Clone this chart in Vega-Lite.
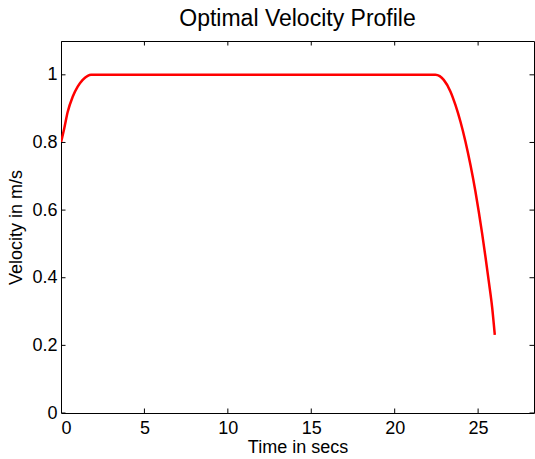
{
  "$schema": "https://vega.github.io/schema/vega-lite/v6.json",
  "width": 473,
  "height": 372,
  "autosize": "none",
  "padding": {"left": 61, "top": 41, "right": 1, "bottom": 46},
  "background": "white",
  "title": {"text": "Optimal Velocity Profile", "fontSize": 23, "font": "Liberation Sans", "fontWeight": "normal", "color": "black", "offset": 10},
  "config": {
    "view": {"stroke": "black", "strokeWidth": 1},
    "axis": {"grid": false, "domain": false, "ticks": false, "labelFont": "Liberation Sans", "labelFontSize": 18, "labelColor": "black", "titleFont": "Liberation Sans", "titleFontSize": 18, "titleFontWeight": "normal", "titleColor": "black"}
  },
  "datasets": {
    "curve": [
      {"t": 0, "v": 0.8},
      {"t": 0.2, "v": 0.843},
      {"t": 0.4, "v": 0.89},
      {"t": 0.7, "v": 0.935},
      {"t": 1.0, "v": 0.965},
      {"t": 1.3, "v": 0.985},
      {"t": 1.6, "v": 0.997},
      {"t": 1.8, "v": 1.0},
      {"t": 10, "v": 1.0},
      {"t": 22.44, "v": 1.0},
      {"t": 22.7, "v": 0.996},
      {"t": 22.94, "v": 0.985},
      {"t": 23.34, "v": 0.951},
      {"t": 23.64, "v": 0.911},
      {"t": 23.94, "v": 0.862},
      {"t": 24.24, "v": 0.803},
      {"t": 24.54, "v": 0.734},
      {"t": 24.84, "v": 0.655},
      {"t": 25.04, "v": 0.595},
      {"t": 25.24, "v": 0.531},
      {"t": 25.44, "v": 0.462},
      {"t": 25.64, "v": 0.389},
      {"t": 25.84, "v": 0.313},
      {"t": 26.0, "v": 0.231}
    ],
    "xticks": [{"t": 0}, {"t": 5}, {"t": 10}, {"t": 15}, {"t": 20}, {"t": 25}],
    "yticks": [{"v": 0}, {"v": 0.2}, {"v": 0.4}, {"v": 0.6}, {"v": 0.8}, {"v": 1}]
  },
  "layer": [
    {
      "data": {"name": "curve"},
      "mark": {"type": "line", "color": "#ff0000", "strokeWidth": 2.5, "clip": true, "interpolate": "monotone"},
      "encoding": {
        "x": {"field": "t", "type": "quantitative", "scale": {"domain": [0, 28.35], "nice": false, "zero": false},
              "axis": {"title": "Time in secs", "values": [0, 5, 10, 15, 20, 25], "labelPadding": 6, "titlePadding": 1}},
        "y": {"field": "v", "type": "quantitative", "scale": {"domain": [0, 1.1], "nice": false},
              "axis": {"title": "Velocity in m/s", "values": [0, 0.2, 0.4, 0.6, 0.8, 1], "format": "~g", "labelPadding": 4, "titlePadding": 6}}
      }
    },
    {
      "data": {"name": "xticks"},
      "mark": {"type": "tick", "orient": "vertical", "color": "black", "size": 9, "thickness": 1, "opacity": 1, "clip": true},
      "encoding": {"x": {"field": "t", "type": "quantitative"}, "y": {"datum": 0}}
    },
    {
      "data": {"name": "xticks"},
      "mark": {"type": "tick", "orient": "vertical", "color": "black", "size": 9, "thickness": 1, "opacity": 1, "clip": true},
      "encoding": {"x": {"field": "t", "type": "quantitative"}, "y": {"datum": 1.1}}
    },
    {
      "data": {"name": "yticks"},
      "mark": {"type": "tick", "orient": "horizontal", "color": "black", "size": 9, "thickness": 1, "opacity": 1, "clip": true},
      "encoding": {"y": {"field": "v", "type": "quantitative"}, "x": {"datum": 0}}
    },
    {
      "data": {"name": "yticks"},
      "mark": {"type": "tick", "orient": "horizontal", "color": "black", "size": 9, "thickness": 1, "opacity": 1, "clip": true},
      "encoding": {"y": {"field": "v", "type": "quantitative"}, "x": {"datum": 28.35}}
    }
  ]
}
